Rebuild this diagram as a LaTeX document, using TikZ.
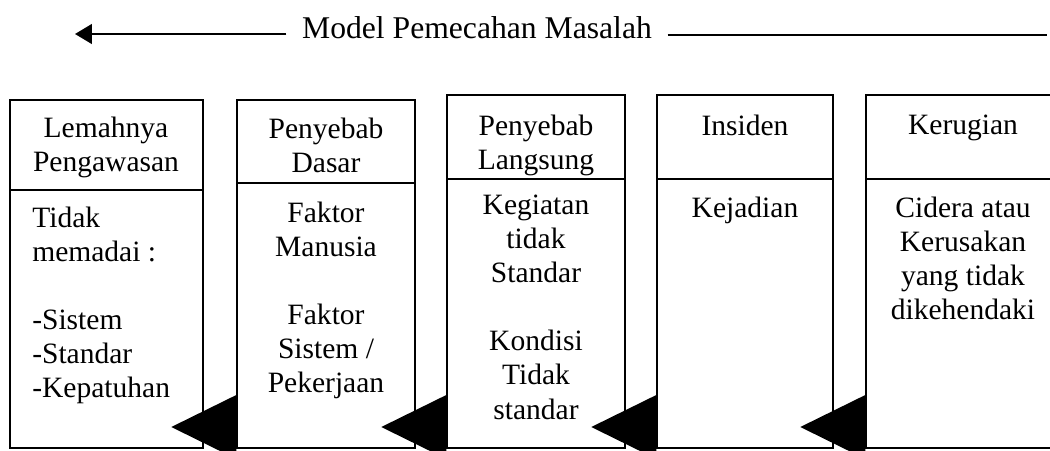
\documentclass[tikz,border=0pt]{standalone}
\usepackage{fontspec}
\setmainfont{Liberation Serif}
\usetikzlibrary{fit,arrows.meta}
\tikzset{
  kotak/.style={draw,line width=1pt,inner sep=0pt},
  isi/.style={inner sep=0pt,anchor=north,align=center,font=\fontsize{21}{24.2}\selectfont},
  sekat/.style={line width=1pt},
  panah/.style={line width=1.4pt,-{Triangle[length=12pt,width=14pt]}},
}
\begin{document}
\begin{tikzpicture}[x=0.025cm,y=-0.025cm]
        \clip (0,0) rectangle (1050,450);
        \node[anchor=base,inner xsep=11pt,font=\fontsize{22.5}{27}\selectfont] (judul) at (477,38) {Model Pemecahan Masalah};
        \coordinate (kiri) at (75,34);
        \coordinate (kanan) at (1047,35);
        \draw[panah] (judul.west |- kiri) -- (kiri);
        \draw[line width=1.4pt] (judul.east |- kanan) -- (kanan);
        \node[kotak,fit={(10,100) (203,448)}] (b1) {};
        \node[kotak,fit={(237,100) (415,448)}] (b2) {};
        \node[kotak,fit={(447,95) (625,448)}] (b3) {};
        \node[kotak,fit={(657,95) (833,448)}] (b4) {};
        \node[kotak,fit={(866,95) (1060,448)}] (b5) {};
        \draw[sekat] (b1.west |- 0,190) -- (b1.east |- 0,190);
        \draw[sekat] (b2.west |- 0,183) -- (b2.east |- 0,183);
        \draw[sekat] (b3.west |- 0,179) -- (b3.east |- 0,179);
        \draw[sekat] (b4.west |- 0,179) -- (b4.east |- 0,179);
        \draw[sekat] (b5.west |- 0,179) -- (b5.east |- 0,179);
        \node[isi] (h1) at (106,117) {Lemahnya\\Pengawasan};
        \node[isi,anchor=north west,align=left] (t1) at (32,207) {Tidak\\memadai :\\[24.2pt]-Sistem\\-Standar\\-Kepatuhan};
        \node[isi] (h2) at (326,118) {Penyebab\\Dasar};
        \node[isi] (t2) at (326,202) {Faktor\\Manusia\\[24.2pt]Faktor\\Sistem /\\Pekerjaan};
        \node[isi] (h3) at (536,115) {Penyebab\\Langsung};
        \node[isi] (t3) at (536,195) {Kegiatan\\tidak\\Standar\\[24.2pt]Kondisi\\Tidak\\standar};
        \node[isi] (h4) at (745,115) {Insiden};
        \node[isi] (t4) at (745,197) {Kejadian};
        \node[isi] (h5) at (963,115) {Kerugian};
        \node[isi] (t5) at (963,197) {Cidera atau\\Kerusakan\\yang tidak\\dikehendaki};
        \fill (b2.west |- 0,395) -- ++(-65,32) -- ++(65,32) -- cycle;
        \fill (b3.west |- 0,395) -- ++(-65,32) -- ++(65,32) -- cycle;
        \fill (b4.west |- 0,395) -- ++(-65,32) -- ++(65,32) -- cycle;
        \fill (b5.west |- 0,395) -- ++(-65,32) -- ++(65,32) -- cycle;
\end{tikzpicture}
\end{document}
